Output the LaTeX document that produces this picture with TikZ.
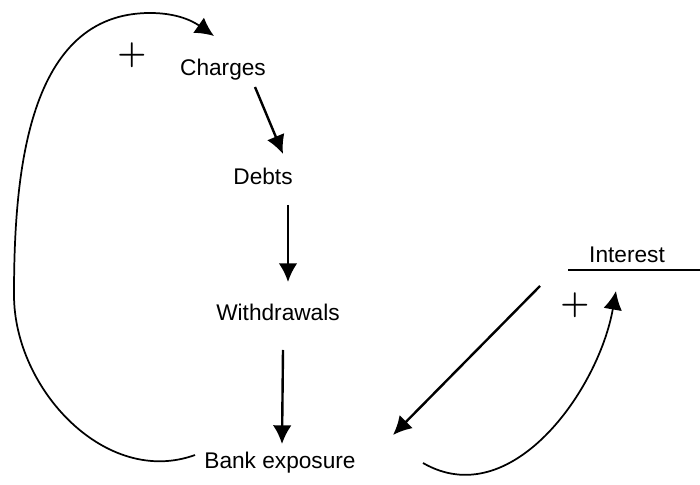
\documentclass[tikz,border=0pt]{standalone}
\usepackage{fontspec}
\setmainfont{Liberation Sans}
\usetikzlibrary{arrows.meta}
\begin{document}
\begin{tikzpicture}[x=0.75pt, y=0.75pt, thick, var/.style = {inner sep=0pt, font=\fontsize{17}{20}\selectfont}, sgn/.style = {inner sep=0pt, font=\fontsize{34}{36}\selectfont\boldmath}, lnk/.style = {line width=1.8pt, -{Latex[length=14pt,width=14pt]}}, loop/.style = {line width=1.3pt, -{Latex[length=14pt,width=14pt]}}]
        \useasboundingbox (0,0) rectangle (700,485);
        \node[var] (chg) at (223,415) {Charges};
        \node[var] (dbt) at (263,309) {Debts};
        \node[var] (wdr) at (278,173) {Withdrawals};
        \node[var] (bnk) at (280,22) {Bank exposure};
        \node[var] (int) at (627,230) {Interest};
        \node[sgn] (p1) at (132,430) {$+$};
        \node[sgn] (p2) at (575,180) {$+$};
        \coordinate (ul) at (700,215);



        \draw[line width=1.8pt] ([shift={(-59,-15)}]int.center) -- (ul);

        \draw[lnk] ([shift={(32,-17)}]chg.center) -- ([shift={(20,22)}]dbt.center);
        \draw[lnk] ([shift={(25,-29)}]dbt.center) -- ([shift={(10,30)}]wdr.center);
        \draw[lnk] ([shift={(5,-38)}]wdr.center) -- ([shift={(2,19)}]bnk.center);

        \draw[lnk] ([shift={(-87,-31)}]int.center) -- ([shift={(113,28)}]bnk.center);

        \draw[loop] ([shift={(-85,8)}]bnk.center) to[out=200, in=270] (14,190) to[out=90, in=180] (150,472) to[out=0, in=145] ([shift={(-9,34)}]chg.center);

        \draw[loop] ([shift={(143,0)}]bnk.center) to[out=-30, in=-100] ([shift={(-11,-36)}]int.center);

\end{tikzpicture}
\end{document}
